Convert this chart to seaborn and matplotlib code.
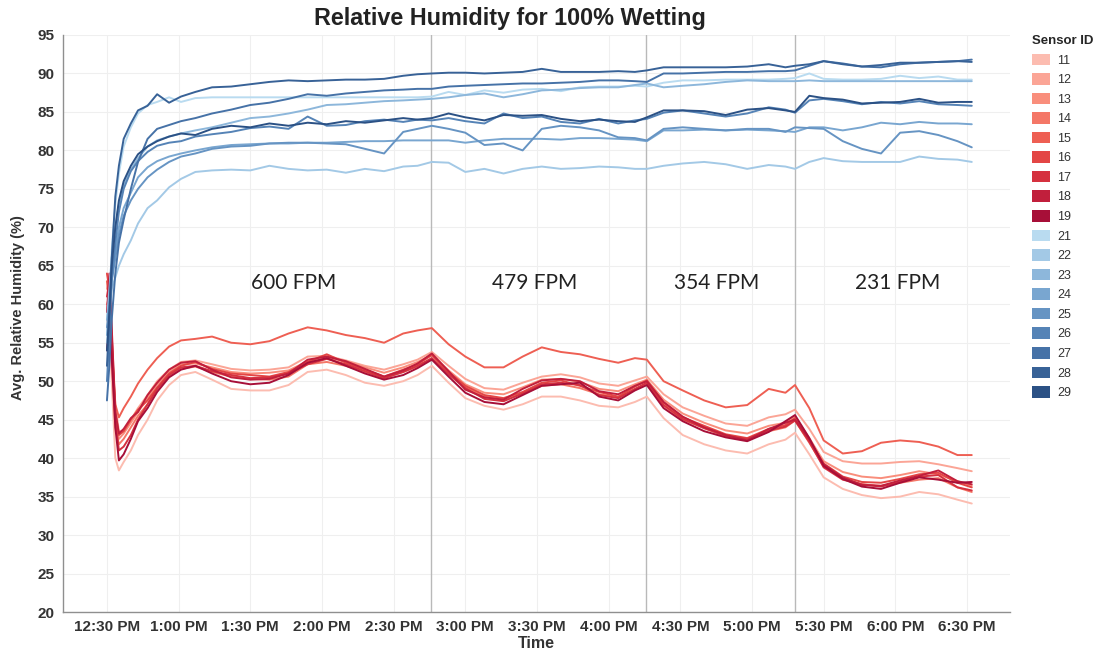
import matplotlib
matplotlib.use("Agg")
import matplotlib.pyplot as plt
import numpy as np
import pandas as pd
import seaborn as sns
from matplotlib.patches import Patch

# ---------------- data ----------------
# minutes after 12:30 PM
minutes = [0, 1, 2, 3.5, 5, 7, 10, 13, 17, 21, 26, 31, 37, 44, 52, 60, 68, 76, 84, 92,
           100, 108, 116, 124, 130, 136, 143, 150, 158, 166, 174, 182, 190, 198, 206, 214, 221, 226, 233, 241,
           250, 259, 268, 277, 284, 288, 294, 300, 308, 316, 324, 332, 340, 348, 356, 362]

tick_minutes = [0, 30, 60, 90, 120, 150, 180, 210, 240, 270, 300, 330, 360]
tick_labels = ["12:30 PM", "1:00 PM", "1:30 PM", "2:00 PM", "2:30 PM", "3:00 PM", "3:30 PM",
               "4:00 PM", "4:30 PM", "5:00 PM", "5:30 PM", "6:00 PM", "6:30 PM"]
y_ticks = [20, 25, 30, 35, 40, 45, 50, 55, 60, 65, 70, 75, 80, 85, 90, 95]

boundaries = [135.7, 225.8, 287.8]
zone_labels = ["600 FPM", "479 FPM", "354 FPM", "231 FPM"]
zone_x = [78, 179, 255, 331]
zone_y = [62.8, 62.8, 62.8, 62.8]

sensor_11 = [58, 57, 50, 40, 38.4, 39.5, 41, 43, 45, 47.5, 49.5, 50.8, 51.2, 50.2, 49.0, 48.8, 48.8, 49.5, 51.2, 51.5,
             50.8, 49.8, 49.4, 50.0, 50.8, 52.0, 49.8, 47.8, 46.8, 46.3, 47.0, 48.0, 48.0, 47.5, 46.8, 46.6, 47.3, 48.0, 45.2, 43.0,
             41.8, 41.0, 40.6, 41.8, 42.4, 43.3, 40.5, 37.5, 36.0, 35.2, 34.8, 35.0, 35.6, 35.3, 34.6, 34.1]
sensor_12 = [62, 63, 56, 47, 43.5, 43.5, 45, 46.5, 48.2, 50.0, 51.5, 52.5, 52.7, 52.2, 51.6, 51.4, 51.5, 51.8, 53.2, 53.3,
             52.7, 52.0, 51.5, 52.2, 52.8, 53.8, 52.0, 50.3, 49.1, 48.9, 49.8, 50.6, 50.9, 50.5, 49.7, 49.4, 50.1, 50.6, 48.3, 46.6,
             45.5, 44.5, 44.2, 45.3, 45.7, 46.3, 43.8, 40.8, 39.6, 39.3, 39.3, 39.5, 39.6, 39.2, 38.7, 38.3]
sensor_13 = [60, 61, 55, 45, 42.5, 43.2, 44.6, 46.0, 47.8, 49.6, 51.2, 52.2, 52.3, 51.8, 51.2, 51.0, 51.1, 51.4, 52.6, 53.0,
             52.6, 51.8, 51.1, 51.8, 52.5, 53.4, 51.4, 49.6, 48.5, 48.3, 49.2, 50.2, 50.3, 49.9, 49.0, 48.7, 49.6, 50.2, 47.6, 45.8,
             44.6, 43.6, 43.2, 44.2, 44.6, 45.4, 42.6, 39.6, 38.2, 37.6, 37.4, 37.8, 38.3, 37.9, 37.0, 36.4]
sensor_14 = [59, 60, 53, 44, 41.8, 42.5, 44.0, 45.5, 47.0, 49.0, 50.6, 51.6, 51.9, 51.2, 50.6, 50.3, 50.2, 50.6, 52.2, 52.5,
             52.0, 51.2, 50.4, 51.2, 51.9, 52.9, 51.0, 49.2, 48.0, 47.6, 48.4, 49.4, 49.6, 49.1, 48.3, 47.9, 48.9, 49.6, 46.8, 45.0,
             43.9, 42.8, 42.4, 43.5, 44.0, 44.9, 42.0, 39.0, 37.4, 36.6, 36.4, 36.8, 37.2, 37.4, 36.2, 35.6]
sensor_15 = [63, 60, 54, 47, 45.3, 46.5, 48, 49.7, 51.5, 53.0, 54.5, 55.3, 55.5, 55.8, 55.0, 54.8, 55.2, 56.2, 57.0, 56.6,
             56.0, 55.6, 55.0, 56.2, 56.6, 56.9, 54.8, 53.2, 51.8, 51.8, 53.2, 54.4, 53.8, 53.5, 52.9, 52.4, 53.0, 52.8, 50.0, 48.8,
             47.5, 46.6, 46.9, 49.0, 48.5, 49.5, 46.5, 42.3, 40.6, 40.9, 42.0, 42.3, 42.1, 41.5, 40.4, 40.4]
sensor_16 = [64, 62, 55, 46, 43.0, 43.5, 45.0, 46.3, 47.5, 49.2, 51.0, 52.0, 52.5, 51.6, 51.0, 50.8, 50.6, 51.2, 52.5, 53.5,
             52.4, 51.5, 50.6, 51.5, 52.2, 53.4, 51.2, 49.4, 48.2, 47.8, 48.6, 49.8, 50.1, 49.4, 48.6, 48.0, 49.3, 50.1, 47.2, 45.3,
             44.2, 43.1, 42.6, 43.8, 44.3, 45.2, 42.3, 39.3, 37.6, 36.9, 36.8, 37.3, 37.9, 38.1, 36.8, 36.2]
sensor_17 = [61, 63, 56, 45, 41.0, 41.5, 43.0, 45.0, 47.0, 49.0, 50.8, 51.8, 52.0, 51.3, 50.8, 50.4, 50.5, 51.0, 52.2, 52.9,
             52.2, 51.3, 50.4, 51.2, 52.0, 53.0, 50.9, 49.1, 47.7, 47.4, 48.4, 49.6, 49.8, 49.5, 48.2, 47.8, 49.0, 49.8, 46.9, 45.1,
             43.9, 42.9, 42.5, 43.6, 44.1, 44.9, 42.1, 38.8, 37.2, 36.6, 36.3, 36.9, 37.6, 37.8, 36.2, 35.8]
sensor_18 = [59, 64, 57, 46, 43.2, 43.8, 45.2, 46.0, 48.2, 49.8, 51.5, 52.4, 52.6, 51.5, 50.5, 50.2, 50.3, 51.0, 52.8, 53.2,
             52.6, 51.6, 50.6, 51.4, 52.3, 53.6, 51.3, 48.9, 47.9, 47.6, 49.0, 50.1, 50.3, 50.0, 48.7, 48.3, 49.4, 50.0, 47.3, 45.4,
             44.0, 43.0, 42.3, 43.8, 44.6, 45.0, 42.4, 39.2, 37.5, 36.5, 36.4, 37.1, 37.7, 38.4, 37.0, 36.6]
sensor_19 = [54, 58, 53, 44, 39.7, 40.5, 42.5, 44.8, 46.5, 48.6, 50.5, 51.5, 52.0, 51.0, 50.0, 49.6, 49.8, 50.8, 52.4, 53.0,
             52.0, 51.0, 50.2, 50.8, 51.7, 52.8, 50.6, 48.5, 47.3, 47.0, 48.2, 49.4, 49.6, 49.8, 48.0, 47.5, 48.8, 49.5, 46.5, 44.8,
             43.5, 42.7, 42.2, 43.4, 44.8, 45.6, 42.6, 39.0, 37.3, 36.3, 36.0, 36.8, 37.5, 37.2, 36.8, 36.9]

sensor_21 = [55, 60, 67, 73, 77, 80.5, 83, 84.8, 85.9, 86.3, 86.9, 86.3, 86.8, 86.9, 86.9, 86.9, 86.9, 86.9, 86.9, 86.9,
             86.9, 86.9, 86.9, 86.9, 86.9, 87.0, 87.6, 87.2, 87.8, 87.5, 87.9, 88.0, 87.7, 88.2, 88.3, 88.3, 88.4, 88.3, 88.8, 89.1,
             89.1, 89.2, 89.2, 89.2, 89.3, 89.4, 90.0, 89.3, 89.2, 89.2, 89.3, 89.7, 89.4, 89.6, 89.2, 89.2]
sensor_22 = [58, 60, 62, 63.5, 65, 66.5, 68.3, 70.5, 72.5, 73.5, 75.2, 76.3, 77.2, 77.4, 77.5, 77.4, 78.0, 77.6, 77.4, 77.5,
             77.1, 77.6, 77.3, 77.9, 78.0, 78.5, 78.4, 77.2, 77.6, 77.0, 77.6, 77.9, 77.6, 77.7, 77.9, 77.8, 77.6, 77.6, 78.0, 78.3,
             78.5, 78.2, 77.6, 78.1, 77.9, 77.6, 78.5, 79.0, 78.6, 78.5, 78.5, 78.5, 79.2, 78.9, 78.8, 78.5]
sensor_23 = [58, 62, 66, 70, 73, 75.5, 77.5, 79, 80.5, 81.3, 81.8, 82.2, 82.6, 83.0, 83.6, 84.2, 84.4, 84.8, 85.3, 85.9,
             86.0, 86.2, 86.4, 86.5, 86.6, 86.7, 86.9, 87.2, 87.4, 86.9, 87.3, 87.8, 87.9, 88.1, 88.2, 88.2, 88.5, 88.7, 88.2, 88.4,
             88.6, 88.9, 89.1, 89.0, 89.0, 89.0, 89.1, 89.0, 89.0, 89.0, 89.0, 89.0, 89.0, 89.0, 89.0, 89.0]
sensor_24 = [56, 60, 64, 67, 70, 72.5, 74.5, 76.5, 77.8, 78.6, 79.2, 79.6, 80.0, 80.4, 80.7, 80.8, 80.9, 80.9, 81.0, 81.0,
             81.1, 81.2, 81.2, 81.3, 81.3, 81.3, 81.3, 81.0, 81.3, 81.5, 81.5, 81.5, 81.4, 81.6, 81.6, 81.5, 81.4, 81.2, 82.6, 82.6,
             82.7, 82.6, 82.7, 82.6, 82.5, 82.4, 83.0, 83.0, 82.6, 83.0, 83.6, 83.4, 83.7, 83.5, 83.5, 83.4]
sensor_25 = [57, 60, 63, 66, 69, 71.5, 73.5, 75, 76.5, 77.5, 78.5, 79.2, 79.6, 80.2, 80.5, 80.6, 80.9, 81.0, 81.0, 80.9,
             80.8, 80.2, 79.6, 82.4, 82.8, 83.2, 82.8, 82.3, 80.7, 80.9, 80.0, 82.8, 83.2, 83.0, 82.6, 81.7, 81.6, 81.3, 82.8, 83.0,
             82.8, 82.6, 82.8, 82.8, 82.4, 83.0, 82.9, 82.8, 81.2, 80.2, 79.6, 82.3, 82.5, 82.0, 81.2, 80.4]
sensor_26 = [50, 56, 63, 68, 72, 75, 77.3, 78.6, 79.8, 80.6, 81.0, 81.2, 81.8, 82.1, 82.4, 82.9, 83.1, 82.8, 84.4, 83.2,
             83.3, 83.8, 84.0, 83.7, 84.0, 83.9, 84.2, 83.8, 83.5, 84.8, 84.2, 84.4, 83.7, 83.5, 84.1, 83.5, 83.9, 84.1, 84.9, 85.2,
             84.8, 84.4, 84.8, 85.6, 85.3, 84.9, 86.5, 86.7, 86.4, 86.0, 86.3, 86.1, 86.4, 86.0, 85.9, 85.8]
sensor_27 = [47.5, 52, 58, 64, 68, 71, 75, 78.5, 81.5, 82.8, 83.3, 83.8, 84.2, 84.8, 85.3, 85.9, 86.2, 86.7, 87.3, 87.1,
             87.4, 87.6, 87.8, 87.9, 88.0, 88.0, 88.3, 88.4, 88.5, 88.6, 88.7, 88.7, 88.8, 88.9, 89.1, 89.1, 89.0, 88.9, 90.0, 90.0,
             90.1, 90.2, 90.2, 90.3, 90.3, 90.4, 91.0, 91.6, 91.3, 90.9, 90.8, 91.2, 91.4, 91.5, 91.6, 91.8]
sensor_28 = [52, 58, 66, 74, 78, 81.5, 83.5, 85.2, 85.8, 87.3, 86.2, 87.0, 87.6, 88.2, 88.3, 88.6, 88.9, 89.1, 89.0, 89.1,
             89.2, 89.2, 89.3, 89.7, 89.9, 90.0, 90.1, 90.1, 90.0, 90.1, 90.2, 90.6, 90.2, 90.2, 90.2, 90.3, 90.2, 90.4, 90.8, 90.8,
             90.8, 90.8, 90.9, 91.2, 90.8, 91.0, 91.2, 91.6, 91.2, 90.9, 91.1, 91.4, 91.4, 91.5, 91.6, 91.5]
sensor_29 = [54, 59, 65, 70, 73.5, 76, 78, 79.5, 80.5, 81.2, 81.8, 82.2, 82.0, 82.8, 83.2, 83.0, 83.5, 83.2, 83.6, 83.4,
             83.8, 83.6, 83.9, 84.2, 84.0, 84.2, 84.8, 84.3, 83.9, 84.6, 84.5, 84.6, 84.1, 83.8, 84.0, 83.8, 83.7, 84.3, 85.2, 85.2,
             85.1, 84.6, 85.3, 85.5, 85.2, 85.0, 87.1, 86.8, 86.6, 86.1, 86.2, 86.3, 86.7, 86.2, 86.3, 86.3]

sensor_ids = ["11", "12", "13", "14", "15", "16", "17", "18", "19",
              "21", "22", "23", "24", "25", "26", "27", "28", "29"]
sensor_values = [sensor_11, sensor_12, sensor_13, sensor_14, sensor_15, sensor_16, sensor_17, sensor_18, sensor_19,
                 sensor_21, sensor_22, sensor_23, sensor_24, sensor_25, sensor_26, sensor_27, sensor_28, sensor_29]
sensor_colors = ["#fcbcb0", "#fba596", "#f98e7c", "#f47767", "#ee5f53", "#e34645", "#d5313f", "#c11f3c", "#a70f38",
                 "#b9dbf0", "#a3c9e6", "#8db7db", "#79a6d0", "#6694c3", "#5583b6", "#4672a7", "#386297", "#2b5185"]
palette = dict(zip(sensor_ids, sensor_colors))

df = pd.concat([pd.DataFrame({"Time": minutes, "RH": vals, "Sensor ID": sid})
                for sid, vals in zip(sensor_ids, sensor_values)], ignore_index=True)

# ---------------- plot ----------------
sns.set_style("white")
plt.rcParams['font.family'] = ['Liberation Sans', 'DejaVu Sans']

fig = plt.figure(figsize=(11, 6.51), dpi=100)
ax = fig.add_axes([63 / 1100, 1 - 612 / 651, (1010 - 63) / 1100, (612 - 35) / 651])

sns.lineplot(data=df, x="Time", y="RH", hue="Sensor ID", hue_order=sensor_ids, palette=palette,
             estimator=None, sort=False, linewidth=1.4, legend=False, ax=ax)

for b in boundaries:
    ax.axvline(b, color="#b9b9b9", linewidth=1.0, zorder=1.5)

for lab, zx, zy in zip(zone_labels, zone_x, zone_y):
    ax.text(zx, zy, lab, ha="center", va="center", fontsize=15, color="#222222",
            family=['Lato', 'DejaVu Sans'])

ax.set_xlim(-18.4, 378)
ax.set_ylim(20, 95)
ax.set_xticks(tick_minutes)
ax.set_xticklabels(tick_labels)
ax.set_yticks(y_ticks)
ax.grid(True, color="#efefef", linewidth=0.8)
ax.set_axisbelow(True)

for side in ["top", "right"]:
    ax.spines[side].set_visible(False)
for side in ["left", "bottom"]:
    ax.spines[side].set_color("#8f8f8f")
    ax.spines[side].set_linewidth(1.0)

ax.tick_params(axis="both", which="major", length=4, width=0.8, color="#8f8f8f",
               labelsize=11, labelcolor="#333333", pad=2)
for lbl in ax.get_xticklabels() + ax.get_yticklabels():
    lbl.set_fontweight("bold")

ax.set_xlabel("Time", fontsize=11.5, fontweight="bold", color="#333333", labelpad=1)
ax.set_ylabel("Avg. Relative Humidity (%)", fontsize=10.5, fontweight="bold", color="#333333")
ax.yaxis.set_label_coords(-0.040, 0.527)
fig.text(510 / 1100, 1 - 18 / 651, "Relative Humidity for 100% Wetting", ha="center", va="center",
         fontsize=16.8, fontweight="bold", color="#222222")

handles = [Patch(facecolor=palette[s], edgecolor="none") for s in sensor_ids]
leg = fig.legend(handles, sensor_ids, title="Sensor ID", loc="upper left",
                 bbox_to_anchor=(1027 / 1100, 1 - 30 / 651), frameon=False, fontsize=9,
                 title_fontproperties={"weight": "bold", "size": 9.5}, handletextpad=0.6,
                 labelspacing=0.52, borderaxespad=0, alignment="left",
                 handlelength=1.4, handleheight=1.05)
for t in leg.get_texts():
    t.set_color("#333333")

fig.savefig("out.png", dpi=100)
